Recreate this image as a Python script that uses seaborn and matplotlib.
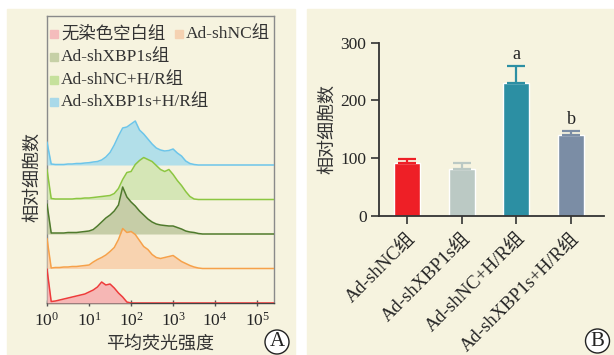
import numpy as np
import pandas as pd
import matplotlib
matplotlib.use("Agg")
import matplotlib.pyplot as plt
from matplotlib.patches import Rectangle, Ellipse
import seaborn as sns

# ---------------- data ----------------
# Panel A: flow cytometry histograms (log10 fluorescence bins, relative counts)
log_bins = [0.0, 0.1, 0.2, 0.3, 0.4, 0.5, 0.6, 0.7, 0.8, 0.9,
            1.0, 1.1, 1.2, 1.3, 1.4, 1.5, 1.6, 1.7, 1.8, 1.9,
            2.0, 2.1, 2.2, 2.3, 2.4, 2.5, 2.6, 2.7, 2.8, 2.9,
            3.0, 3.1, 3.2, 3.3, 3.4, 3.5, 3.6, 3.7, 3.8]
counts_blank = [34, 1.5, 2, 3, 4, 5, 6, 7, 8, 9,
                11, 13, 16, 21, 18, 19, 15, 10, 6, 1,
                0, 0, 0, 0, 0, 0, 0, 0, 0, 0,
                0, 0, 0, 0, 0, 0, 0, 0, 0]
counts_shnc = [30, 0.5, 1, 1, 1.5, 1.5, 2, 2, 2.5, 3,
               3.5, 6.5, 9, 11, 13.5, 17, 21, 29, 40, 36,
               37, 34, 28, 22, 19, 14, 11, 10, 11, 12,
               13, 10, 7, 5, 3, 1.5, 0.5, 0, 0]
counts_shxbp = [30, 1, 1, 1, 1, 1.5, 1.5, 1.5, 2, 2.5,
                3, 4.5, 8, 12, 16, 19, 23, 29, 47, 37,
                32, 28, 23, 19, 15, 12, 10, 9, 8.5, 8,
                8, 6.5, 5, 3, 2, 1.5, 0.5, 0, 0]
counts_shnc_hr = [30, 1, 0.5, 0.5, 0.5, 0.5, 0.5, 1, 1, 1.5,
                  1.5, 2, 2.5, 3, 3.5, 4, 6, 11, 20, 27,
                  28, 35, 39, 42, 40, 38, 34, 30, 28, 30,
                  25, 19, 14, 8, 3, 0.5, 0, 0, 0]
counts_shxbp_hr = [23, 1, 0.5, 0.5, 0.5, 1, 1, 1.5, 1.5, 2,
                   2.3, 3, 3.5, 5, 8, 12.5, 20, 29, 37, 38,
                   41, 44, 35, 31, 26, 21, 17, 15, 14, 14.5,
                   16, 12, 9, 4, 1.5, 0.5, 0, 0, 0]
hist_names = ["无染色空白组", "Ad-shNC组", "Ad-shXBP1s组",
              "Ad-shNC+H/R组", "Ad-shXBP1s+H/R组"]
hist_counts = [counts_blank, counts_shnc, counts_shxbp,
               counts_shnc_hr, counts_shxbp_hr]
x_ticks_exp = [0, 1, 2, 3, 4, 5]

# Panel B: bar chart
groups = ["Ad-shNC组", "Ad-shXBP1s组", "Ad-shNC+H/R组", "Ad-shXBP1s+H/R组"]
means = [91, 82, 231, 140]
errors = [8, 10, 29, 8]
sig_letters = ["", "", "a", "b"]
y_ticks_b = [0, 100, 200, 300]

# ---------------- style ----------------
sns.set_theme(style="ticks")
plt.rcParams["font.family"] = ["Liberation Serif", "Noto Sans CJK SC"]
plt.rcParams["mathtext.fontset"] = "custom"
plt.rcParams["mathtext.rm"] = "Liberation Serif"
plt.rcParams["axes.unicode_minus"] = False

cream = "#f6f3df"
line_cols = ["#ee3b3b", "#f6a14a", "#4f7a2c", "#8cc641", "#6cc5ea"]
fill_cols = ["#f6b7b5", "#f8d3b0", "#c6cda7", "#d5e6b6", "#b2dfe9"]
legend_cols = ["#f4bcbc", "#f5d2b2", "#c6d0a6", "#c6e19c", "#a9d9e9"]
bar_cols = ["#ee1f26", "#bbc9c4", "#2c8fa3", "#7b8da5"]
W, H = 614, 355

fig = plt.figure(figsize=(6.14, 3.55), dpi=100)
fig.patch.set_facecolor("white")
fig.add_artist(Rectangle((7 / W, 0), (295 - 7) / W, (355 - 9) / H,
                         transform=fig.transFigure, color=cream, zorder=0))
fig.add_artist(Rectangle((307 / W, 0), (613 - 307) / W, (355 - 9) / H,
                         transform=fig.transFigure, color=cream, zorder=0))

# ---------------- Panel A ----------------
axA = fig.add_axes([47 / W, 52 / H, 227 / W, 287 / H])
axA.set_facecolor(cream)
step = 34.5
x_end = 5.4
for i in range(len(hist_counts) - 1, -1, -1):
    off = i * step
    lx = list(log_bins) + [x_end]
    cy = list(hist_counts[i]) + [0]
    df = pd.DataFrame({"x": np.power(10.0, lx), "y": np.array(cy) + off})
    z = 10 + (len(hist_counts) - i) * 2
    axA.fill_between(df["x"], off, df["y"], color=fill_cols[i], lw=0, zorder=z)
    sns.lineplot(data=df, x="x", y="y", ax=axA, color=line_cols[i],
                 lw=1.1, sort=False, estimator=None, zorder=z + 1)
axA.set_xscale("log")
axA.set_xlim(1, 10 ** x_end)
axA.set_ylim(0, 287)
axA.set_yticks([])
axA.set_xticks([10.0 ** e for e in x_ticks_exp])
axA.set_xticklabels([r"$\mathregular{10^{%d}}$" % e for e in x_ticks_exp],
                    fontsize=12.5)
axA.tick_params(axis="x", which="major", direction="inout", length=5,
                width=1, color="#555555", pad=4)
axA.tick_params(axis="x", which="minor", direction="inout", length=3,
                width=0.8, color="#555555")
for s in axA.spines.values():
    s.set_color("#8a8a8a")
    s.set_linewidth(1.0)
axA.spines["bottom"].set_color("#444444")
axA.set_xlabel("平均荧光强度", fontsize=13, color="#333333")
axA.xaxis.set_label_coords(0.50, -0.115)
axA.set_ylabel("相对细胞数", fontsize=13, color="#333333")
axA.yaxis.set_label_coords(-0.024, 0.44)

# legend (manual layout)
leg_items = [(0, 50, 34), (1, 175, 34), (2, 50, 57), (3, 50, 80), (4, 50, 102)]
for idx, px, py in leg_items:
    fig.add_artist(Rectangle((px / W, (H - py - 4) / H), 8 / W, 8 / H,
                             transform=fig.transFigure,
                             color=legend_cols[idx], zorder=30))
    fig.text((px + 11) / W, (H - py) / H, hist_names[idx], fontsize=12.5,
             va="center", ha="left", color="#333333", zorder=31)

# ---------------- Panel B ----------------
axB = fig.add_axes([379 / W, 139 / H, 225 / W, 173.3 / H])
axB.set_facecolor("none")
dfb = pd.DataFrame({"group": groups, "value": means})
sns.barplot(data=dfb, x="group", y="value", hue="group", palette=bar_cols,
            legend=False, ax=axB, width=0.475, saturation=1, errorbar=None)
for i in range(len(groups)):
    axB.errorbar(i, means[i], yerr=[[0], [errors[i]]], color=bar_cols[i],
                 capsize=6.5, capthick=1.6, elinewidth=1.6, zorder=1)
    if sig_letters[i]:
        axB.text(i, means[i] + errors[i] + 4, sig_letters[i], ha="center",
                 va="bottom", fontsize=13, color="#222222")
axB.set_xlim(-0.51, 3.6)
axB.set_ylim(0, 300)
axB.set_yticks(y_ticks_b)
axB.set_yticklabels([str(v) for v in y_ticks_b], fontsize=12.5)
axB.set_xticks(range(len(groups)))
axB.set_xticklabels(groups, rotation=45, ha="right", rotation_mode="anchor",
                    fontsize=13.5)
axB.tick_params(axis="both", direction="out", length=6, width=1.2,
                color="#333333", pad=3)
axB.tick_params(axis="x", pad=4)
sns.despine(ax=axB)
for s in ["left", "bottom"]:
    axB.spines[s].set_color("#333333")
    axB.spines[s].set_linewidth(1.3)
axB.set_xlabel("")
axB.set_ylabel("相对细胞数", fontsize=13, color="#333333")
axB.yaxis.set_label_coords(-0.19, 0.5)

# ---------------- panel letters ----------------
for cx, cy, lab in [(277, 342, "A"), (597.5, 341, "B")]:
    fig.add_artist(Ellipse((cx / W, (H - cy) / H), 24 / W, 24 / H,
                           transform=fig.transFigure, fc="white",
                           ec="#222222", lw=1.0, zorder=40))
    fig.text(cx / W, (H - cy) / H, lab, fontsize=15, ha="center",
             va="center", color="#222222", zorder=41)

fig.savefig("out.png", dpi=100, facecolor=fig.get_facecolor())
